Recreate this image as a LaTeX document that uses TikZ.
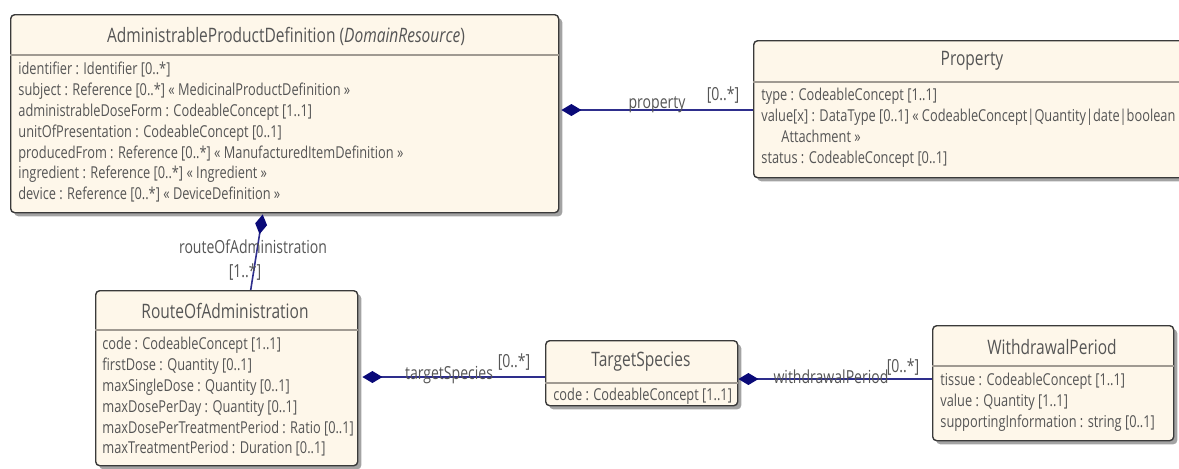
\documentclass[tikz,border=0pt]{standalone}
\usepackage{fontspec}
\setmainfont{Open Sans}[FakeStretch=0.78]
\usetikzlibrary{arrows.meta,shadows}
\definecolor{boxfill}{HTML}{FEF7EA}
\definecolor{boxline}{HTML}{3A3A3A}
\definecolor{sepline}{HTML}{A09A92}
\definecolor{txt}{HTML}{555555}
\definecolor{assocline}{HTML}{2E2E8C}
\definecolor{diam}{HTML}{0A0A78}
\tikzset{
  cls/.style={draw=boxline, fill=boxfill, rounded corners=2pt, line width=0.7pt,
    anchor=north west, inner sep=0pt,
    drop shadow={shadow xshift=1.8pt, shadow yshift=-1.8pt, fill=black!60, opacity=0.6}},
  sepl/.style={draw=sepline, line width=0.7pt},
  ctitle/.style={text=txt, font=\fontsize{9.95pt}{12pt}\selectfont, inner sep=0pt},
  attrs/.style={text=txt, font=\fontsize{8.2pt}{10.4pt}\selectfont, align=left, anchor=north west, inner sep=0pt},
  assoc/.style={draw=assocline, line width=0.8pt, {Diamond[length=10pt,width=6pt,fill=diam,color=diam]}-},
  rolel/.style={text=txt, font=\fontsize{9pt}{11pt}\selectfont, inner sep=0pt},
}
\begin{document}
\begin{tikzpicture}[x=0.5pt,y=-0.5pt]
\useasboundingbox (0,0) rectangle (1179,468);
% boxes
\node[cls, minimum width=274pt, minimum height=99pt] (apd) at (10,14) {};
\node[cls, minimum width=230pt, minimum height=68.5pt] (prop) at (753,40) {};
\node[cls, minimum width=131pt, minimum height=87.5pt] (route) at (95,290) {};
\node[cls, minimum width=96pt, minimum height=32.5pt] (ts) at (545,340) {};
\node[cls, minimum width=120.5pt, minimum height=57.5pt] (wd) at (932,325) {};
% separators
\draw[sepl] (apd.west |- 0,55) -- (apd.east |- 0,55);
\draw[sepl] (prop.west |- 0,82) -- (prop.east |- 0,82);
\draw[sepl] (route.west |- 0,330) -- (route.east |- 0,330);
\draw[sepl] (ts.west |- 0,383) -- (ts.east |- 0,383);
\draw[sepl] (wd.west |- 0,366) -- (wd.east |- 0,366);
% titles
\node[ctitle] (apdt) at (286,36) {AdministrableProductDefinition (\textit{DomainResource})};
\node[ctitle] (propt) at (972,61) {Property};
\node[ctitle] (routet) at (225,311) {RouteOfAdministration};
\node[ctitle] (tst) at (641,362) {TargetSpecies};
\node[ctitle] (wdt) at (1052,347) {WithdrawalPeriod};
% attributes
\node[attrs] (apda) at (18,62) {identifier : Identifier [0..*]\\
subject : Reference [0..*] « MedicinalProductDefinition »\\
administrableDoseForm : CodeableConcept [1..1]\\
unitOfPresentation : CodeableConcept [0..1]\\
producedFrom : Reference [0..*] « ManufacturedItemDefinition »\\
ingredient : Reference [0..*] « Ingredient »\\
device : Reference [0..*] « DeviceDefinition »};
\node[attrs] (propa) at (761,88) {type : CodeableConcept [1..1]\\
value[x] : DataType [0..1] « CodeableConcept|Quantity|date|boolean\\
\hspace{10pt}Attachment »\\
status : CodeableConcept [0..1]};
\node[attrs] (routea) at (102,337) {code : CodeableConcept [1..1]\\
firstDose : Quantity [0..1]\\
maxSingleDose : Quantity [0..1]\\
maxDosePerDay : Quantity [0..1]\\
maxDosePerTreatmentPeriod : Ratio [0..1]\\
maxTreatmentPeriod : Duration [0..1]};
\node[attrs] (tsa) at (553,388) {code : CodeableConcept [1..1]};
\node[attrs] (wda) at (940,373) {tissue : CodeableConcept [1..1]\\
value : Quantity [1..1]\\
supportingInformation : string [0..1]};
% associations
\draw[assoc] ([xshift=1pt]apd.east |- 0,110) -- (prop.west |- 0,110);
\draw[assoc] ([xshift=-11pt,yshift=-0.5pt]apd.south) -- ([xshift=12pt]route.north);
\draw[assoc] ([xshift=2pt]route.east |- 0,377) -- (ts.west |- 0,377);
\draw[assoc] (ts.east |- 0,379) -- (wd.west |- 0,379);
% role labels
\node[rolel] (lprop) at (657,105) {property};
\node[rolel] (mprop) at (723,95) {[0..*]};
\node[rolel] (lroute) at (253,247) {routeOfAdministration};
\node[rolel] (mroute) at (245,272) {[1..*]};
\node[rolel] (lts) at (449,375) {targetSpecies};
\node[rolel] (mts) at (514,362) {[0..*]};
\node[rolel] (lwd) at (831,377) {withdrawalPeriod};
\node[rolel] (mwd) at (903,367) {[0..*]};
\end{tikzpicture}
\end{document}
